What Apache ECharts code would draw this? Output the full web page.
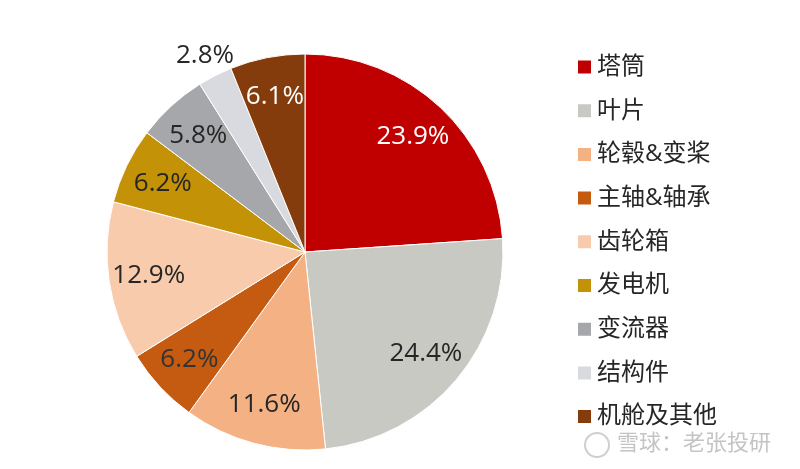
<!DOCTYPE html>
<html><head><meta charset="utf-8">
<script src="https://cdn.jsdelivr.net/npm/echarts@6/dist/echarts.min.js"></script>
<style>html,body{margin:0;padding:0;background:#fff}#c{width:800px;height:469px}</style>
</head><body><div id="c"></div>
<script>
const categories = ['塔筒','叶片','轮毂&变桨','主轴&轴承','齿轮箱','发电机','变流器','结构件','机舱及其他'];
const values = [23.9, 24.4, 11.6, 6.2, 12.9, 6.2, 5.8, 2.8, 6.1];
const colors = ['#C00000','#C9C9C4','#F4B183','#C55A11','#F8CBAD','#C39207','#A6A7AB','#D9DADF','#843C0C'];
const labelColors = ['#ffffff','#262626','#262626','#333333','#262626','#262626','#262626','#262626','#ffffff'];
const outsideIdx = 7;

const font = '"Open Sans", "Noto Sans CJK SC", sans-serif';
const chart = echarts.init(document.getElementById('c'));
const center = [305, 252];
const R = 198;

const baseData = categories.map((n, i) => ({ name: n, value: values[i], itemStyle: { color: colors[i] } }));
const ringData = (show) => categories.map((n, i) => ({
  name: n, value: values[i],
  itemStyle: { color: 'rgba(0,0,0,0)' },
  label: { show: show(i), color: labelColors[i] }
}));
const labelStyle = {
  position: 'inside', formatter: p => p.value.toFixed(1) + '%',
  fontSize: 26, fontFamily: font
};

chart.setOption({
  animation: false,
  legend: {
    orient: 'vertical', left: 571, top: 50,
    itemWidth: 15, itemHeight: 15, itemGap: 19.7,
    icon: 'rect',
    textStyle: { fontSize: 24, color: '#262626', fontFamily: font },
    data: categories
  },
  graphic: [
    { type: 'circle', shape: { cx: 597, cy: 445, r: 12 }, style: { fill: 'none', stroke: '#cfcfcf', lineWidth: 2 } },
    { type: 'text', left: 617, top: 433, style: { text: '雪球：老张投研', fontSize: 22, fill: '#c4c4c4', fontFamily: font } }
  ],
  series: [
    {
      type: 'pie', center: center, radius: [0, R], startAngle: 90, clockwise: true,
      label: { show: false }, labelLine: { show: false },
      itemStyle: { borderColor: '#ffffff', borderWidth: 1 },
      emphasis: { disabled: true },
      data: baseData
    },
    {
      type: 'pie', center: center, radius: [112, R], startAngle: 90, clockwise: true, silent: true,
      label: labelStyle, labelLine: { show: false }, emphasis: { disabled: true },
      data: ringData(i => i !== outsideIdx)
    },
    {
      type: 'pie', center: center, radius: [R, 236], startAngle: 90, clockwise: true, silent: true,
      label: labelStyle, labelLine: { show: false }, emphasis: { disabled: true },
      data: ringData(i => i === outsideIdx)
    }
  ]
});
</script></body></html>
